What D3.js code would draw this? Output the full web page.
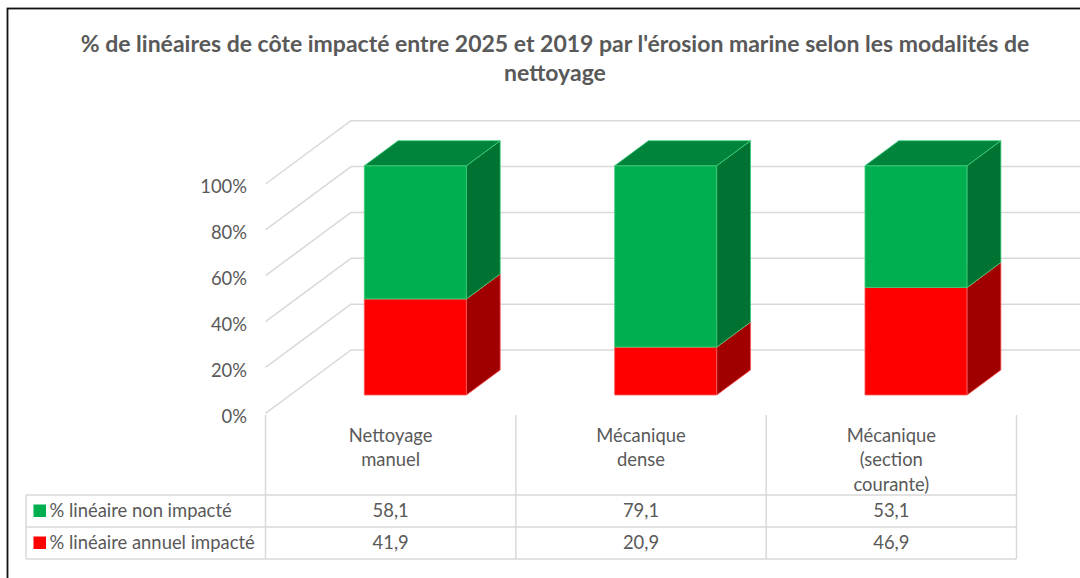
<!DOCTYPE html>
<html lang="fr">
<head>
<meta charset="utf-8">
<script src="https://cdn.jsdelivr.net/npm/d3@7"></script>
<style>
  html, body { margin: 0; padding: 0; background: #fff; }
  svg { display: block; font-family: Lato, "Open Sans", sans-serif; }
</style>
</head>
<body>
<svg id="chart" width="1080" height="578"></svg>
<script>
// ---- data ----
const categories = ["Nettoyage manuel", "Mécanique dense", "Mécanique (section courante)"];
const categoryLines = [["Nettoyage", "manuel"], ["Mécanique", "dense"], ["Mécanique", "(section", "courante)"]];
const seriesKeys = ["impacte", "nonImpacte"];
const seriesNames = { nonImpacte: "% linéaire non impacté", impacte: "% linéaire annuel impacté" };
const nonImpacte = [58.1, 79.1, 53.1];
const impacte = [41.9, 20.9, 46.9];
const yTicks = [0, 20, 40, 60, 80, 100];
const tableRows = ["nonImpacte", "impacte"];
const titleLines = [
  "% de linéaires de côte impacté entre 2025 et 2019 par l'érosion marine selon les modalités de",
  "nettoyage"
];

// ---- styling ----
const TEXT = "#595959";
const GRID = "#d9d9d9";
const BODY = 18.4;
const faces = {
  nonImpacte: { front: "#00b050", side: "#007332", top: "#00843c", edge: "#3fd07e" },
  impacte:    { front: "#ff0000", side: "#a00000", top: "#c00000", edge: "#ff5a5a" }
};

const svg = d3.select("#chart");
const rows = categories.map((c, i) => ({ cat: c, nonImpacte: nonImpacte[i], impacte: impacte[i] }));
const stacked = d3.stack().keys(seriesKeys)(rows);
const frFmt = d3.formatLocale({ decimal: ",", thousands: " ", grouping: [3], currency: ["", " €"] }).format(".1f");

// ---- scales (front plane) and oblique depth ----
const x = d3.scaleBand().domain(categories).range([265.5, 1016.5]).paddingInner(0.592).paddingOuter(0.296);
const y = d3.scaleLinear().domain([0, 100]).range([413.3, 184]);
const depth = { dx: 85.5, dy: -63.3 };
const barZ = [0.289, 0.684];
const proj = (px, v, z) => [px + z * depth.dx, y(v) + z * depth.dy];
const [x0, x1] = x.range();

// outer frame
svg.append("rect").attr("x", 7.5).attr("y", 8.5).attr("width", 1100).attr("height", 600)
  .attr("fill", "none").attr("stroke", "#111").attr("stroke-width", 1.8);

// title
svg.append("g").selectAll("text").data(titleLines).join("text")
  .attr("x", 555).attr("y", (d, i) => 52 + i * 29)
  .attr("text-anchor", "middle").attr("fill", TEXT)
  .attr("font-weight", 700).attr("font-size", 23)
  .text(d => d);

// side wall and back wall gridlines
const walls = svg.append("g").attr("stroke", GRID).attr("stroke-width", 1.5).attr("fill", "none");
walls.selectAll("line.side").data(yTicks).join("line").attr("class", "side")
  .attr("x1", d => proj(x0, d, 0)[0]).attr("y1", d => proj(x0, d, 0)[1])
  .attr("x2", d => proj(x0, d, 1)[0]).attr("y2", d => proj(x0, d, 1)[1]);
walls.selectAll("line.back").data(yTicks).join("line").attr("class", "back")
  .attr("x1", d => proj(x0, d, 1)[0]).attr("y1", d => proj(x0, d, 1)[1])
  .attr("x2", d => proj(x1, d, 1)[0]).attr("y2", d => proj(x1, d, 1)[1]);

// y axis labels
const yAxis = d3.axisLeft(y).tickValues(yTicks).tickFormat(d => d + "%").tickSize(0).tickPadding(0);
const yg = svg.append("g").attr("transform", "translate(247,3)").call(yAxis);
yg.select(".domain").remove();
yg.selectAll("text").attr("fill", TEXT).attr("font-size", BODY).attr("font-family", "Lato, sans-serif");

// 3D stacked columns
const poly = pts => "M" + pts.map(p => p.join(",")).join("L") + "Z";
const bars = svg.append("g");
rows.forEach((r, i) => {
  const bx0 = x(r.cat), bx1 = bx0 + x.bandwidth();
  stacked.forEach(layer => {
    const [v0, v1] = layer[i];
    const f = faces[layer.key];
    const g = bars.append("g").attr("stroke", f.edge).attr("stroke-width", 0.8).attr("stroke-linejoin", "round");
    const zf = barZ[0], zb = barZ[1];
    // front face
    g.append("path").attr("fill", f.front).attr("d", poly([
      proj(bx0, v0, zf), proj(bx1, v0, zf), proj(bx1, v1, zf), proj(bx0, v1, zf)]));
    // right side face
    g.append("path").attr("fill", f.side).attr("d", poly([
      proj(bx1, v0, zf), proj(bx1, v0, zb), proj(bx1, v1, zb), proj(bx1, v1, zf)]));
    // top face
    g.append("path").attr("fill", f.top).attr("d", poly([
      proj(bx0, v1, zf), proj(bx1, v1, zf), proj(bx1, v1, zb), proj(bx0, v1, zb)]));
  });
});

// data table
const tbl = svg.append("g");
const rowTop = 495, rowH = 32;
const boundaries = categories.map(c => x(c) - x.step() * x.paddingOuter()).concat([x1]);
const grid = tbl.append("g").attr("stroke", GRID).attr("stroke-width", 1.5);
grid.selectAll("line.v").data(boundaries).join("line").attr("class", "v")
  .attr("x1", d => d).attr("x2", d => d).attr("y1", 415).attr("y2", rowTop + rowH * 2);
grid.append("line").attr("x1", 26).attr("x2", 26).attr("y1", rowTop).attr("y2", rowTop + rowH * 2);
grid.selectAll("line.h").data([0, 1, 2]).join("line").attr("class", "h")
  .attr("x1", 26).attr("x2", x1).attr("y1", d => rowTop + d * rowH).attr("y2", d => rowTop + d * rowH);

// category headings
categories.forEach((c, i) => {
  const cx = x(c) + x.bandwidth() / 2;
  tbl.append("g").selectAll("text").data(categoryLines[i]).join("text")
    .attr("x", cx).attr("y", (d, j) => 441.5 + j * 24.5)
    .attr("text-anchor", "middle").attr("fill", TEXT).attr("font-size", BODY)
    .text(d => d);
});

// legend keys and values
tableRows.forEach((key, ri) => {
  const cy = rowTop + ri * rowH + rowH / 2;
  tbl.append("rect").attr("x", 33.5).attr("y", cy - 6.5).attr("width", 12.5).attr("height", 12.5)
    .attr("fill", faces[key].front);
  tbl.append("text").attr("x", 49.5).attr("y", cy + 6).attr("fill", TEXT).attr("font-size", BODY)
    .text(seriesNames[key]);
  tbl.append("g").selectAll("text").data(rows).join("text")
    .attr("x", d => x(d.cat) + x.bandwidth() / 2).attr("y", cy + 6)
    .attr("text-anchor", "middle").attr("fill", TEXT).attr("font-size", BODY)
    .text(d => frFmt(d[key]));
});
</script>
</body>
</html>
